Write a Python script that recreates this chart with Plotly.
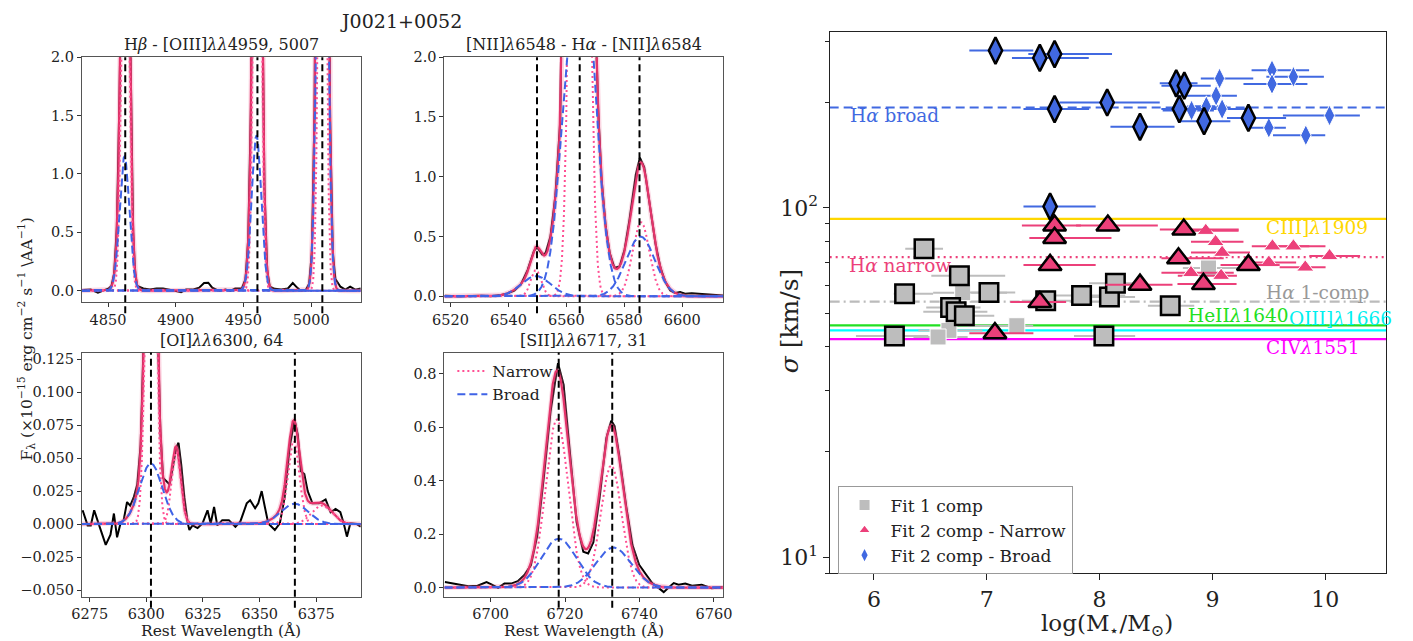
import numpy as np
import plotly.graph_objects as go

W, H = 1413, 641
FONT = "DejaVu Serif"

# ---------------- spectral panels: data ----------------
# Panel 1 : Hbeta - [OIII]
P1_XRANGE = [4830.7, 5036.6]
P1_YRANGE = [-0.1, 2.0]
P1_LINES = [4862.68, 4960.30, 5008.24]
P1_N_CEN = [4862.7, 4960.2, 5008.2]
P1_N_AMP = [4.0, 5.3, 7.0]
P1_N_SIG = [2.5, 2.5, 2.3]
P1_B_CEN = [4862.1, 4959.6, 5008.2]
P1_B_AMP = [1.15, 1.33, 6.7]
P1_B_SIG = [3.6, 3.5, 3.1]
P1_OBS_WL = [4830.7, 4837.2, 4842.5, 4846.9, 4850.5, 4852.5, 4854.5, 4856.5, 4858.5, 4862.7,
             4866.5, 4868.5, 4870.0, 4871.5, 4876.0, 4880.9, 4885.8, 4890.6, 4895.4, 4900.3,
             4903.9, 4907.6, 4912.4, 4917.3, 4920.9, 4924.0, 4926.9, 4931.8, 4936.7, 4940.3,
             4943.9, 4948.8, 4951.5, 4953.5, 4955.5, 4957.5, 4960.2, 4963.5, 4965.5, 4967.5,
             4969.4, 4973.1, 4977.9, 4982.8, 4986.4, 4989.6, 4992.5, 4996.1, 4998.5, 5000.5,
             5002.5, 5004.5, 5008.2, 5012.0, 5014.0, 5016.0, 5017.9, 5021.6, 5025.2, 5028.8,
             5032.5, 5036.6]
P1_OBS_FL = [0.005, 0.009, -0.017, 0.005, 0.02, 0.04, 0.15, 0.55, 1.7, 5.1,
             1.8, 0.5, 0.15, 0.04, 0.019, 0.009, 0.019, 0.019, 0.009, -0.002,
             -0.013, 0.009, 0.009, 0.026, 0.065, 0.068, 0.026, -0.002, 0.009, -0.002,
             0.019, 0.02, 0.1, 0.44, 1.57, 4.0, 6.6, 2.9, 0.88, 0.18,
             0.035, 0.016, 0.009, 0.019, 0.065, 0.026, -0.002, 0.009, 0.06, 0.33,
             1.55, 5.2, 13.7, 5.0, 1.45, 0.32, 0.1, 0.034, 0.009, 0.034,
             0.009, 0.019]

# Panel 2 : [NII] - Halpha - [NII]
P2_XRANGE = [6517.9, 6614.2]
P2_YRANGE = [-0.05, 2.0]
P2_LINES = [6549.86, 6564.61, 6585.27]
P2_N_CEN = [6549.5, 6564.6, 6585.8]
P2_N_AMP = [0.22, 12.0, 0.62]
P2_N_SIG = [1.8, 2.27, 2.9]
P2_B_CEN = [6549.5, 6564.5, 6585.6]
P2_B_AMP = [0.17, 3.3, 0.5]
P2_B_SIG = [5.0, 4.8, 5.0]
P2_OBS_WL = [6518.0, 6522.7, 6527.3, 6530.7, 6533.9, 6537.5, 6539.7, 6542.0, 6544.3, 6546.6,
             6548.8, 6549.9, 6551.7, 6552.8, 6554.5, 6556.2, 6557.9, 6558.8, 6561.0, 6564.6,
             6568.0, 6570.2, 6571.0, 6572.1, 6573.6, 6575.0, 6576.6, 6578.4, 6580.1, 6581.8,
             6584.0, 6585.4, 6586.9, 6588.6, 6590.8, 6592.5, 6594.2, 6595.9, 6597.6, 6599.3,
             6601.0, 6603.3, 6605.5, 6607.8, 6611.2, 6614.1]
P2_OBS_FL = [0.006, 0.0, 0.004, 0.006, 0.0, 0.011, 0.025, 0.047, 0.1, 0.22,
             0.38, 0.41, 0.35, 0.36, 0.5, 0.84, 1.47, 2.1, 5.9, 15.3,
             6.4, 2.2, 1.56, 1.0, 0.58, 0.36, 0.24, 0.25, 0.39, 0.64,
             1.02, 1.16, 1.08, 0.81, 0.44, 0.24, 0.12, 0.05, 0.028, 0.036,
             0.022, 0.025, 0.022, 0.014, 0.011, 0.008]

# Panel 3 : [OI]
P3_XRANGE = [6271.6, 6394.6]
P3_YRANGE = [-0.055, 0.130]
P3_LINES = [6302.05, 6365.54]
P3_N_CEN = [6302.0, 6313.2, 6365.0, 6377.5]
P3_N_AMP = [0.35, 0.055, 0.063, 0.014]
P3_N_SIG = [2.0, 2.0, 2.5, 4.5]
P3_B_CEN = [6302.0, 6365.4]
P3_B_AMP = [0.046, 0.0155]
P3_B_SIG = [5.0, 6.0]
P3_OBS_WL = [6271.9, 6274.1, 6275.5, 6277.0, 6279.2, 6282.1, 6284.2, 6285.7, 6287.1, 6288.6,
             6290.0, 6291.5, 6292.9, 6294.4, 6296.0, 6297.5, 6299.0, 6302.0, 6305.0, 6306.2,
             6307.4, 6308.9, 6310.3, 6313.2, 6314.2, 6315.4, 6316.8, 6318.3, 6319.0, 6320.4,
             6322.6, 6324.8, 6327.0, 6328.4, 6329.9, 6331.3, 6333.5, 6336.4, 6339.3, 6341.5,
             6344.3, 6345.8, 6348.0, 6349.4, 6350.9, 6352.3, 6353.8, 6356.7, 6358.9, 6361.0,
             6363.2, 6365.4, 6366.8, 6368.2, 6369.7, 6371.2, 6373.3, 6376.2, 6379.1, 6381.3,
             6383.5, 6385.6, 6387.1, 6388.5, 6390.0, 6392.9, 6394.6]
P3_OBS_FL = [0.0105, -0.001, -0.001, 0.0105, -0.001, -0.0157, -0.008, 0.008, -0.01, 0.0005,
             0.003, 0.0167, 0.014, 0.02, 0.03, 0.06, 0.15, 0.4, 0.15, 0.07,
             0.035, 0.032, 0.03, 0.058, 0.0616, 0.045, 0.02, 0.0005, -0.0045, -0.001,
             -0.003, 0.0005, 0.0105, 0.0005, 0.013, -0.001, 0.003, 0.003, -0.002, 0.002,
             0.0157, 0.018, 0.012, 0.0157, 0.025, 0.013, 0.0005, -0.0045, 0.0005, 0.02,
             0.058, 0.079, 0.068, 0.04, 0.038, 0.025, 0.0157, 0.0157, 0.0187, 0.009,
             0.0115, 0.009, 0.0005, -0.0095, 0.0005, 0.0, -0.002]

# Panel 4 : [SII]
P4_XRANGE = [6687.6, 6762.5]
P4_YRANGE = [-0.034, 0.88]
P4_LINES = [6718.29, 6732.67]
P4_N_CEN = [6717.8, 6732.4]
P4_N_AMP = [0.63, 0.457]
P4_N_SIG = [3.0, 2.8]
P4_B_CEN = [6718.3, 6733.0]
P4_B_AMP = [0.183, 0.15]
P4_B_SIG = [4.7, 4.7]
P4_OBS_WL = [6687.7, 6690.5, 6694.0, 6696.5, 6698.9, 6700.2, 6702.0, 6703.7, 6705.5, 6707.3,
             6709.0, 6710.8, 6712.5, 6714.3, 6716.1, 6718.1, 6719.6, 6721.4, 6723.1, 6724.9,
             6726.2, 6727.6, 6729.3, 6731.1, 6732.4, 6733.3, 6734.6, 6736.4, 6738.1, 6739.9,
             6741.7, 6743.4, 6745.2, 6746.5, 6747.9, 6749.2, 6750.5, 6752.3, 6754.1, 6756.7,
             6759.4, 6762.4]
P4_OBS_FL = [0.021, 0.015, 0.005, 0.007, 0.021, 0.012, -0.001, 0.015, 0.015, 0.024,
             0.046, 0.083, 0.193, 0.414, 0.66, 0.84, 0.76, 0.49, 0.245, 0.134,
             0.128, 0.17, 0.34, 0.56, 0.625, 0.605, 0.49, 0.306, 0.159, 0.085,
             0.048, 0.017, -0.002, -0.017, 0.001, 0.017, 0.011, 0.015, 0.007, 0.011,
             -0.002, 0.001]

# ---------------- right panel: sigma vs stellar mass ----------------
SQ_BIG_X = [6.443, 6.757, 6.271, 7.019, 6.679, 6.728, 6.801, 6.181, 7.522, 7.840, 8.087, 8.140, 8.038, 8.626]
SQ_BIG_Y = [76.4, 64.0, 56.8, 57.3, 51.9, 50.4, 49.1, 43.0, 54.2, 56.1, 55.6, 60.9, 43.0, 52.5]
SQ_BIG_XLO = [0.166, 0.249, 0.096, 0.233, 0.216, 0.291, 0.207, 0.341, 0.212, 0.399, 0.238, 0.233, 0.265, 0.198]
SQ_BIG_XHI = [0.169, 0.406, 0.253, 0.233, 0.265, 0.277, 0.265, 0.300, 0.226, 0.387, 0.227, 0.262, 0.277, 0.213]

SQ_LT_X = [6.786, 6.664, 6.568, 7.266, 8.965]
SQ_LT_Y = [57.2, 44.6, 42.7, 46.0, 67.3]
SQ_LT_XLO = [0.262, 0.271, 0.218, 0.437, 0.227]
SQ_LT_XHI = [0.393, 0.297, 0.262, 0.145, 0.268]

TRI_BIG_X = [7.601, 8.073, 7.601, 7.561, 7.470, 7.072, 8.746, 8.699, 8.358, 8.920, 9.319]
TRI_BIG_Y = [89.1, 89.1, 82.1, 68.7, 53.8, 43.8, 86.7, 71.8, 60.3, 60.6, 68.6]
TRI_BIG_XLO = [0.290, 0.282, 0.224, 0.236, 0.262, 0.227, 0.212, 0.151, 0.306, 0.230, 0.247]
TRI_BIG_XHI = [0.233, 0.443, 0.504, 0.404, 0.233, 0.341, 0.487, 0.401, 0.288, 0.294, 0.277]

TRI_LT_X = [8.941, 9.028, 9.086, 8.810, 9.077, 9.532, 9.718, 9.500, 9.823, 10.038]
TRI_LT_Y = [86.1, 80.0, 74.5, 65.2, 64.0, 77.7, 77.7, 69.8, 67.6, 72.9]
TRI_LT_XLO = [0.190, 0.218, 0.276, 0.262, 0.384, 0.183, 0.210, 0.224, 0.227, 0.179]
TRI_LT_XHI = [0.291, 0.247, 0.247, 0.379, 0.140, 0.327, 0.284, 0.242, 0.180, 0.271]

DIA_BIG_X = [7.077, 7.470, 7.601, 7.601, 8.067, 8.358, 8.679, 8.751, 8.707, 8.926, 9.319, 7.561]
DIA_BIG_Y = [282.5, 269, 276, 192, 200.5, 170.8, 227.5, 224, 192, 177.3, 181.1, 100.9]
DIA_BIG_XLO = [0.232, 0.247, 0.233, 0.276, 0.423, 0.262, 0.146, 0.203, 0.160, 0.234, 0.190, 0.236]
DIA_BIG_XHI = [0.335, 0.434, 0.509, 0.306, 0.466, 0.306, 0.189, 0.234, 0.245, 0.233, 0.334, 0.404]

DIA_LT_X = [9.063, 9.528, 9.718, 9.528, 9.033, 8.815, 8.946, 9.086, 9.500, 9.828, 10.038]
DIA_LT_Y = [235, 248, 237.6, 226.5, 209.5, 190.2, 195.5, 192, 169.7, 161.5, 184]
DIA_LT_XLO = [0.166, 0.181, 0.240, 0.253, 0.369, 0.256, 0.169, 0.247, 0.198, 0.291, 0.413]
DIA_LT_XHI = [0.299, 0.329, 0.270, 0.314, 0.184, 0.198, 0.181, 0.216, 0.151, 0.172, 0.269]

REF_LABELS = ["Hα broad", "CIII]λ1909", "Hα narrow", "Hα 1-comp", "HeIIλ1640", "OIII]λ1666", "CIVλ1551"]
REF_VALUES = [194.0, 93.1, 72.3, 53.9, 46.1, 44.6, 42.1]

R_XRANGE = [5.607, 10.541]
R_YRANGE = [9, 320]

# ---------------- styles ----------------
RED = "#E4336A"
PINK = "#FF4F93"
BLUE = "#3F63E6"
C_BLUE = "#4169E1"
C_PINK = "#EC407A"
C_GRAY = "#BDBDBD"

fig = go.Figure()


def px_dom_x(a, b):
    return [a / W, b / W]


def px_dom_y(top, bottom):
    return [1 - bottom / H, 1 - top / H]


def gauss(x, c, a, s):
    return a * np.exp(-0.5 * ((x - c) / s) ** 2)


panels = [
    dict(i=1, xr=P1_XRANGE, yr=P1_YRANGE, lines=P1_LINES, nc=P1_N_CEN, na=P1_N_AMP, ns=P1_N_SIG,
         bc=P1_B_CEN, ba=P1_B_AMP, bs=P1_B_SIG, ow=P1_OBS_WL, of=P1_OBS_FL,
         dx=px_dom_x(71, 354), dy=px_dom_y(50, 299), dtick=50, tick0=4850,
         yvals=[0, 0.5, 1.0, 1.5, 2.0], yfmt=".1f",
         title="H<i>β</i> - [OIII]<i>λλ</i>4959, 5007"),
    dict(i=2, xr=P2_XRANGE, yr=P2_YRANGE, lines=P2_LINES, nc=P2_N_CEN, na=P2_N_AMP, ns=P2_N_SIG,
         bc=P2_B_CEN, ba=P2_B_AMP, bs=P2_B_SIG, ow=P2_OBS_WL, of=P2_OBS_FL,
         dx=px_dom_x(439, 722), dy=px_dom_y(50, 299), dtick=20, tick0=6520,
         yvals=[0, 0.5, 1.0, 1.5, 2.0], yfmt=".1f",
         title="[NII]<i>λ</i>6548 - H<i>α</i> - [NII]<i>λ</i>6584"),
    dict(i=3, xr=P3_XRANGE, yr=P3_YRANGE, lines=P3_LINES, nc=P3_N_CEN, na=P3_N_AMP, ns=P3_N_SIG,
         bc=P3_B_CEN, ba=P3_B_AMP, bs=P3_B_SIG, ow=P3_OBS_WL, of=P3_OBS_FL,
         dx=px_dom_x(71, 354), dy=px_dom_y(350, 598), dtick=25, tick0=6275,
         yvals=[-0.05, -0.025, 0, 0.025, 0.05, 0.075, 0.1, 0.125], yfmt=".3f",
         title="[OI]<i>λλ</i>6300, 64"),
    dict(i=4, xr=P4_XRANGE, yr=P4_YRANGE, lines=P4_LINES, nc=P4_N_CEN, na=P4_N_AMP, ns=P4_N_SIG,
         bc=P4_B_CEN, ba=P4_B_AMP, bs=P4_B_SIG, ow=P4_OBS_WL, of=P4_OBS_FL,
         dx=px_dom_x(439, 722), dy=px_dom_y(350, 598), dtick=20, tick0=6700,
         yvals=[0, 0.2, 0.4, 0.6, 0.8], yfmt=".1f",
         title="[SII]<i>λλ</i>6717, 31"),
]

shapes = []
annotations = []
layout_axes = {}

for p in panels:
    i = p["i"]
    xa = "x" if i == 1 else f"x{i}"
    ya = "y" if i == 1 else f"y{i}"
    grid = np.linspace(p["xr"][0], p["xr"][1], 1500)
    ncomp = [gauss(grid, c, a, s) for c, a, s in zip(p["nc"], p["na"], p["ns"])]
    bcomp = [gauss(grid, c, a, s) for c, a, s in zip(p["bc"], p["ba"], p["bs"])]
    total = np.sum(ncomp, axis=0) + np.sum(bcomp, axis=0)

    fig.add_trace(go.Scatter(x=p["ow"], y=p["of"], mode="lines", line=dict(color="black", width=2),
                             xaxis=xa, yaxis=ya, showlegend=False, hoverinfo="skip"))
    fig.add_trace(go.Scatter(x=grid, y=total, mode="lines",
                             line=dict(color="rgba(240,110,155,0.28)", width=5),
                             xaxis=xa, yaxis=ya, showlegend=False, hoverinfo="skip"))
    fig.add_trace(go.Scatter(x=grid, y=total, mode="lines", line=dict(color=RED, width=2.2),
                             xaxis=xa, yaxis=ya, showlegend=False, hoverinfo="skip"))
    for k, comp in enumerate(ncomp):
        fig.add_trace(go.Scatter(x=grid, y=comp, mode="lines",
                                 line=dict(color=PINK, width=2, dash="2px,3px"),
                                 xaxis=xa, yaxis=ya, name="Narrow", legend="legend2",
                                 showlegend=(i == 4 and k == 0), hoverinfo="skip"))
    for k, comp in enumerate(bcomp):
        fig.add_trace(go.Scatter(x=grid, y=comp, mode="lines",
                                 line=dict(color=BLUE, width=2, dash="8px,4px"),
                                 xaxis=xa, yaxis=ya, name="Broad", legend="legend2",
                                 showlegend=(i == 4 and k == 0), hoverinfo="skip"))

    for wl in p["lines"]:
        shapes.append(dict(type="line", xref=xa, yref=f"{ya} domain", x0=wl, x1=wl, y0=-0.045, y1=1,
                           line=dict(color="black", width=2, dash="7px,4px"), layer="above"))

    axis_common = dict(showline=True, linecolor="#555", linewidth=1.2, mirror=True,
                       ticks="outside", ticklen=4, tickwidth=1.2, tickcolor="#333",
                       showgrid=False, zeroline=False,
                       tickfont=dict(size=14.5, color="#222", family=FONT))
    xkey = "xaxis" if i == 1 else f"xaxis{i}"
    ykey = "yaxis" if i == 1 else f"yaxis{i}"
    layout_axes[xkey] = dict(domain=p["dx"], range=p["xr"], anchor=ya, tickmode="linear",
                             tick0=p["tick0"], dtick=p["dtick"], **axis_common)
    layout_axes[ykey] = dict(domain=p["dy"], range=p["yr"], anchor=xa, tickmode="array",
                             tickvals=p["yvals"], tickformat=p["yfmt"], **axis_common)
    annotations.append(dict(text=p["title"], xref="paper", yref="paper",
                            x=(p["dx"][0] + p["dx"][1]) / 2, y=p["dy"][1] + 1 / H,
                            xanchor="center", yanchor="bottom", showarrow=False,
                            font=dict(size=16, color="#222", family=FONT)))

# ---------------- right panel traces ----------------
for y_val, dash, color in [(REF_VALUES[1], "solid", "#FFD700"), (REF_VALUES[4], "solid", "#22E022"),
                           (REF_VALUES[5], "solid", "#00FFFF"), (REF_VALUES[6], "solid", "#FF00FF"),
                           (REF_VALUES[3], "10px,4px,2px,4px", "#BBBBBB"),
                           (REF_VALUES[2], "2px,4px", C_PINK), (REF_VALUES[0], "9px,5px", C_BLUE)]:
    fig.add_trace(go.Scatter(x=R_XRANGE, y=[y_val, y_val], mode="lines",
                             line=dict(color=color, width=2.2, dash=dash),
                             xaxis="x5", yaxis="y5", showlegend=False, hoverinfo="skip"))


def add_points(xs, ys, lo, hi, symbol, size, color, barcolor, edge, edgew, name, show):
    fig.add_trace(go.Scatter(
        x=xs, y=ys, mode="markers", name=name, showlegend=show, legend="legend",
        marker=dict(symbol=symbol, size=size, color=color, line=dict(color=edge, width=edgew)),
        error_x=dict(type="data", symmetric=False, array=hi, arrayminus=lo,
                     color=barcolor, thickness=2, width=0),
        xaxis="x5", yaxis="y5", hoverinfo="skip"))


add_points(SQ_LT_X, SQ_LT_Y, SQ_LT_XLO, SQ_LT_XHI, "square", 16, C_GRAY, C_GRAY, "white", 1,
           "Fit 1 comp", True)
add_points(TRI_LT_X, TRI_LT_Y, TRI_LT_XLO, TRI_LT_XHI, "triangle-up", 15, C_PINK, C_PINK, "white", 1,
           "Fit 2 comp - Narrow", True)
add_points(DIA_LT_X, DIA_LT_Y, DIA_LT_XLO, DIA_LT_XHI, "diamond-tall", 15, C_BLUE, C_BLUE, "white", 1,
           "Fit 2 comp - Broad", True)
add_points(SQ_BIG_X, SQ_BIG_Y, SQ_BIG_XLO, SQ_BIG_XHI, "square", 18.5, C_GRAY, C_GRAY, "black", 2.5,
           "sq", False)
add_points(TRI_BIG_X, TRI_BIG_Y, TRI_BIG_XLO, TRI_BIG_XHI, "triangle-up", 20, C_PINK, C_PINK, "black", 2.5,
           "tri", False)
add_points(DIA_BIG_X, DIA_BIG_Y, DIA_BIG_XLO, DIA_BIG_XHI, "diamond-tall", 19, C_BLUE, C_BLUE, "black", 2.5,
           "dia", False)

layout_axes["xaxis5"] = dict(domain=px_dom_x(830, 1395), range=R_XRANGE, anchor="y5",
                             tickmode="array", tickvals=[6, 7, 8, 9, 10],
                             showline=True, linecolor="#222", linewidth=1.3, mirror=True,
                             ticks="outside", ticklen=6, tickwidth=1.2, tickcolor="#222",
                             showgrid=False, zeroline=False,
                             tickfont=dict(size=22, color="#222", family=FONT))
layout_axes["yaxis5"] = dict(domain=px_dom_y(24, 574), type="log",
                             range=[np.log10(R_YRANGE[0]), np.log10(R_YRANGE[1])], anchor="x5",
                             tickmode="array", tickvals=[10, 100],
                             ticktext=["10<sup>1</sup>", "10<sup>2</sup>"],
                             showline=True, linecolor="#222", linewidth=1.3, mirror=True,
                             ticks="outside", ticklen=6, tickwidth=1.2, tickcolor="#222",
                             minor=dict(ticks="outside", ticklen=3.5, tickcolor="#222",
                                        tickvals=[9, 20, 30, 40, 50, 60, 70, 80, 90, 200, 300]),
                             showgrid=False, zeroline=False,
                             tickfont=dict(size=22, color="#222", family=FONT))

# reference-line labels: (index, x start, pixel shift from the line, colour)
label_specs = [
    (0, 5.773, -8, C_BLUE),
    (1, 9.46, -9, "#FFD700"),
    (2, 5.764, -8, C_PINK),
    (3, 9.46, 9, "#999999"),
    (4, 8.77, 10, "#22E022"),
    (5, 9.66, 12, "#00F0F0"),
    (6, 9.46, -8, "#FF00FF"),
]
for idx, xpos, shift, color in label_specs:
    annotations.append(dict(text=REF_LABELS[idx].replace("α", "<i>α</i>").replace("λ", "<i>λ</i>"),
                            xref="x5", yref="y5", x=xpos, y=float(np.log10(REF_VALUES[idx])),
                            xanchor="left", yanchor="middle", showarrow=False, yshift=shift,
                            font=dict(size=18.5, color=color, family=FONT)))

# titles and axis labels
annotations += [
    dict(text="J0021+0052", xref="paper", yref="paper", x=395 / W, y=1 - 13 / H,
         xanchor="center", yanchor="middle", showarrow=False,
         font=dict(size=19, color="#222", family=FONT)),
    dict(text="F<sub>λ</sub> (×10<sup>−15</sup> erg cm<sup>−2</sup> s<sup>−1</sup> \\AA<sup>−1</sup>)",
         xref="paper", yref="paper", x=15 / W, y=1 - 336 / H, textangle=-90,
         xanchor="center", yanchor="middle", showarrow=False,
         font=dict(size=15.5, color="#222", family=FONT)),
    dict(text="Rest Wavelength (Å)", xref="paper", yref="paper", x=212.5 / W, y=1 - 633 / H,
         xanchor="center", yanchor="middle", showarrow=False,
         font=dict(size=15.5, color="#222", family=FONT)),
    dict(text="Rest Wavelength (Å)", xref="paper", yref="paper", x=580.5 / W, y=1 - 633 / H,
         xanchor="center", yanchor="middle", showarrow=False,
         font=dict(size=15.5, color="#222", family=FONT)),
    dict(text="log(M<sub>⋆</sub>/M<sub>⊙</sub>)", xref="paper", yref="paper", x=1112 / W, y=1 - 627 / H,
         xanchor="center", yanchor="middle", showarrow=False,
         font=dict(size=23, color="#222", family=FONT)),
    dict(text="<i>σ</i> [km/s]", xref="paper", yref="paper", x=789 / W, y=1 - 318 / H, textangle=-90,
         xanchor="center", yanchor="middle", showarrow=False,
         font=dict(size=25, color="#222", family=FONT)),
]

fig.update_layout(
    width=W, height=641, margin=dict(l=0, r=0, t=0, b=0),
    paper_bgcolor="white", plot_bgcolor="white",
    font=dict(family=FONT, color="#222"),
    shapes=shapes, annotations=annotations,
    legend=dict(x=838 / W, y=1 - 486 / H, xanchor="left", yanchor="top",
                bordercolor="#999999", borderwidth=1, bgcolor="white",
                font=dict(size=17, family=FONT, color="#222"),
                itemsizing="constant", itemwidth=42, tracegroupgap=3),
    legend2=dict(x=447 / W, y=1 - 352 / H, xanchor="left", yanchor="top",
                 bgcolor="rgba(0,0,0,0)", borderwidth=0,
                 font=dict(size=15.5, family=FONT, color="#222")),
    **layout_axes,
)

fig.write_html("out.html")
